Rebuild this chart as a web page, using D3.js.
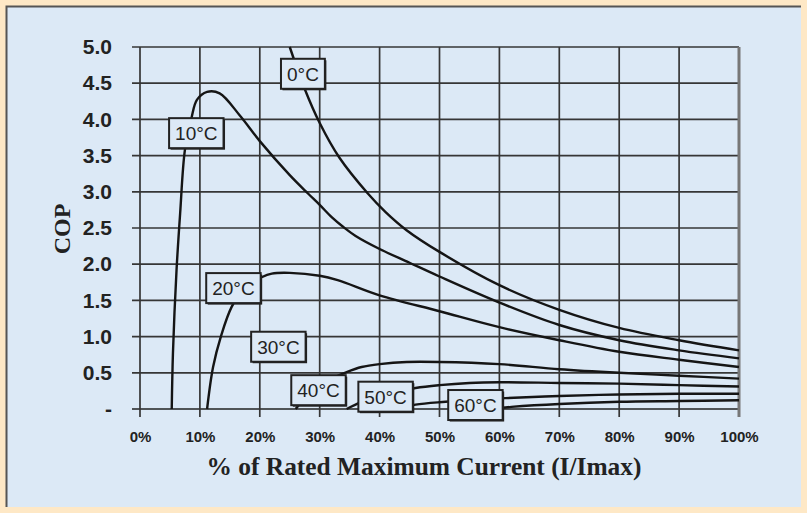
<!DOCTYPE html>
<html>
<head>
<meta charset="utf-8">
<script src="https://cdn.jsdelivr.net/npm/d3@7"></script>
<style>
  body { margin: 0; background: #fee8c6; }
  svg { display: block; }
</style>
</head>
<body>
<svg id="chart"></svg>
<script>
const width = 807;
const height = 513;

// data: [ % of Imax, COP ]
const temps = ['0°C', '10°C', '20°C', '30°C', '40°C', '50°C', '60°C'];

const curve0 = [[25, 5.0], [27.5, 4.42], [30, 3.95], [33.3, 3.47], [38, 2.98], [41, 2.72], [44.5, 2.47], [50, 2.17],
                [60, 1.71], [70, 1.37], [80, 1.12], [90, 0.95], [100, 0.81]];
const curve10 = [[5.3, 0], [5.5, 0.77], [6.1, 1.92], [6.7, 2.7], [7.5, 3.58], [8.6, 4.02], [9.5, 4.27],
                 [11.2, 4.38], [13.3, 4.36], [16.7, 4.05], [20, 3.7], [25, 3.23], [28, 2.98], [30, 2.82],
                 [32, 2.65], [34, 2.51], [36, 2.39], [40, 2.21], [45, 2.02], [50, 1.83], [60, 1.47],
                 [70, 1.16], [80, 0.95], [90, 0.81], [100, 0.7]];
const curve20 = [[11.2, 0], [12.2, 0.58], [13.5, 1.0], [15.3, 1.41], [17.5, 1.68], [20.3, 1.82], [22, 1.87],
                 [25, 1.88], [30, 1.84], [33, 1.78], [40, 1.57], [50, 1.35], [60, 1.13], [70, 0.95],
                 [80, 0.79], [90, 0.68], [100, 0.58]];
const curve30 = [[26, 0], [28, 0.2], [31, 0.38], [34.5, 0.51], [37, 0.58], [40, 0.62], [44.5, 0.65], [50, 0.65],
                 [60, 0.62], [70, 0.55], [80, 0.5], [90, 0.46], [100, 0.42]];
const curve40 = [[34.5, 0], [37, 0.1], [41, 0.2], [46, 0.29], [50, 0.33], [55, 0.36], [60, 0.37], [70, 0.36],
                 [80, 0.35], [90, 0.33], [100, 0.31]];
const curve50 = [[43, 0], [46, 0.06], [51, 0.1], [56, 0.13], [61, 0.15], [70, 0.18], [80, 0.2], [90, 0.21], [100, 0.21]];
const curve60 = [[58, 0], [62, 0.03], [70, 0.07], [80, 0.1], [90, 0.11], [100, 0.12]];
const curves = [curve0, curve10, curve20, curve30, curve40, curve50, curve60];

// where each temperature tag sits, in data units
const labelAt = [[27.2, 4.63], [9.4, 3.81], [15.6, 1.67], [23.1, 0.86], [29.8, 0.26], [41.0, 0.17], [56.0, 0.055]];

const xTicks = [0, 10, 20, 30, 40, 50, 60, 70, 80, 90, 100];
const yTicks = [0, 0.5, 1, 1.5, 2, 2.5, 3, 3.5, 4, 4.5, 5];

const svg = d3.select('#chart')
    .attr('width', width)
    .attr('height', height);

// panel
svg.append('rect').attr('width', width).attr('height', height).attr('fill', '#fee8c6');
svg.append('rect')
    .attr('x', 6).attr('y', 6)
    .attr('width', 795).attr('height', 501)
    .attr('fill', '#dce9f6');
svg.append('path')
    .attr('d', 'M6.5,507V6.5H801')
    .attr('fill', 'none')
    .attr('stroke', '#555')
    .attr('stroke-width', 2);

const x = d3.scaleLinear().domain([0, 100]).range([140, 739]);
const y = d3.scaleLinear().domain([0, 5]).range([409, 47]);

// grid
const grid = svg.append('g').attr('stroke', '#333').attr('stroke-width', 1.7);
grid.selectAll('.h')
    .data(yTicks)
    .enter()
    .append('line')
    .attr('x1', x(0) - 8)
    .attr('x2', x(100))
    .attr('y1', d => y(d))
    .attr('y2', d => y(d))
    .attr('stroke', d => d === 0 ? '#222' : '#363636');
grid.selectAll('.v')
    .data(xTicks)
    .enter()
    .append('line')
    .attr('x1', d => x(d))
    .attr('x2', d => x(d))
    .attr('y1', y(5))
    .attr('y2', y(0) + 8)
    .attr('stroke', d => d === 100 ? '#777' : '#363636')
    .attr('stroke-width', d => d === 100 ? 3 : 1.7);

// axes labels
const yAxis = svg.append('g')
    .attr('transform', `translate(${x(0)},0)`)
    .call(d3.axisLeft(y).tickValues(yTicks).tickSize(0).tickPadding(28)
        .tickFormat(d => d === 0 ? '-' : d3.format('.1f')(d)));
yAxis.select('.domain').remove();
yAxis.selectAll('text')
    .attr('font-family', 'Liberation Sans, Arial, sans-serif')
    .attr('font-size', 21)
    .attr('font-weight', 'bold')
    .attr('fill', '#222');

const xAxis = svg.append('g')
    .attr('transform', `translate(0,${y(0)})`)
    .call(d3.axisBottom(x).tickValues(xTicks).tickSize(0).tickPadding(22)
        .tickFormat(d => d + '%'));
xAxis.select('.domain').remove();
xAxis.selectAll('text')
    .attr('font-family', 'Liberation Sans, Arial, sans-serif')
    .attr('font-size', 15)
    .attr('font-weight', 'bold')
    .attr('fill', '#222');

svg.append('text')
    .attr('x', 424)
    .attr('y', 475)
    .attr('text-anchor', 'middle')
    .attr('font-family', 'Liberation Serif, Times New Roman, serif')
    .attr('font-weight', 'bold')
    .attr('font-size', 26)
    .attr('textLength', 435)
    .attr('lengthAdjust', 'spacingAndGlyphs')
    .attr('fill', '#222')
    .text('% of Rated Maximum Current (I/Imax)');

svg.append('text')
    .attr('transform', 'translate(70,229) rotate(-90)')
    .attr('text-anchor', 'middle')
    .attr('font-family', 'Liberation Serif, Times New Roman, serif')
    .attr('font-weight', 'bold')
    .attr('font-size', 24)
    .attr('fill', '#222')
    .text('COP');

// curves
const line = d3.line()
    .x(d => x(d[0]))
    .y(d => y(d[1]))
    .curve(d3.curveCatmullRom.alpha(0.5));

svg.append('g')
    .selectAll('path')
    .data(curves)
    .enter()
    .append('path')
    .attr('d', line)
    .attr('fill', 'none')
    .attr('stroke', '#151515')
    .attr('stroke-width', 2.4);

// tags
const tags = svg.append('g')
    .selectAll('g')
    .data(temps)
    .enter()
    .append('g')
    .attr('transform', (d, i) => `translate(${x(labelAt[i][0])},${y(labelAt[i][1])})`);

tags.append('text')
    .attr('text-anchor', 'middle')
    .attr('dy', '0.36em')
    .attr('font-family', 'Liberation Sans, Arial, sans-serif')
    .attr('font-size', 19)
    .attr('fill', '#222')
    .text(d => d);

tags.each(function () {
    const g = d3.select(this);
    const w = g.select('text').node().getComputedTextLength() + 12;
    const h = 30;
    g.insert('rect', 'text')
        .attr('x', -w / 2 + 1.5).attr('y', -h / 2 + 1.5)
        .attr('width', w).attr('height', h)
        .attr('fill', '#222');
    g.insert('rect', 'text')
        .attr('x', -w / 2).attr('y', -h / 2)
        .attr('width', w).attr('height', h)
        .attr('fill', '#dce9f6')
        .attr('stroke', '#222')
        .attr('stroke-width', 2);
});
</script>
</body>
</html>
